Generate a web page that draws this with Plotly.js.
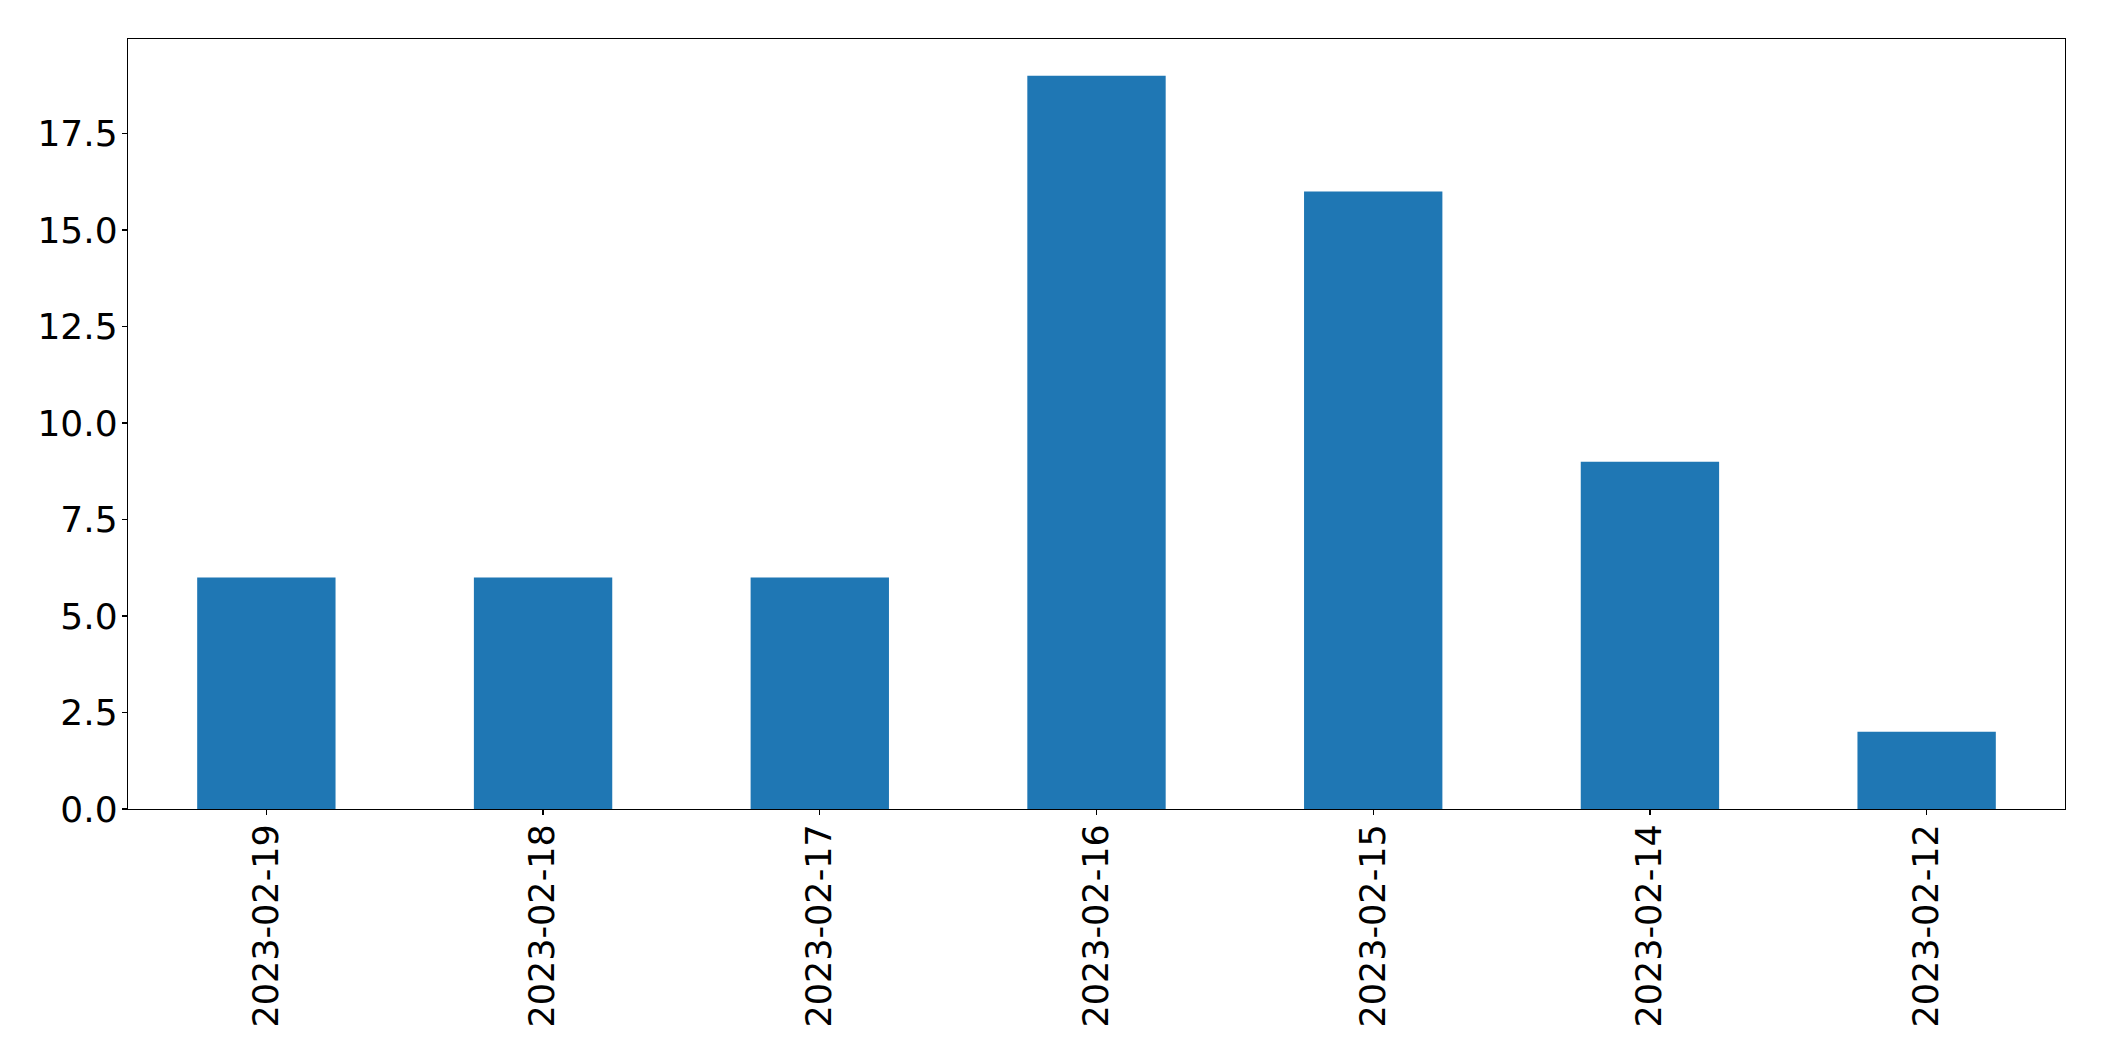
<!DOCTYPE html>
<html>
<head>
<meta charset="utf-8">
<script src="https://cdn.plot.ly/plotly-3.0.1.min.js"></script>
<style>html,body{margin:0;padding:0;background:#fff;}#chart{width:2104px;height:1061px;}</style>
</head>
<body>
<div id="chart"></div>
<script>
const categories = ["2023-02-19","2023-02-18","2023-02-17","2023-02-16","2023-02-15","2023-02-14","2023-02-12"];
const values = [6, 6, 6, 19, 16, 9, 2];
const yTickVals = [0, 2.5, 5, 7.5, 10, 12.5, 15, 17.5];
const yTickText = ["0.0","2.5","5.0","7.5","10.0","12.5","15.0","17.5"];

const trace = {
  type: "bar",
  x: categories,
  y: values,
  width: 0.5,
  marker: {color: "#1f77b4", line: {width: 0}},
  hoverinfo: "x+y"
};

const layout = {
  width: 2104,
  height: 1061,
  margin: {l: 127.5, r: 38.7, t: 39.3, b: 252, pad: 0},
  paper_bgcolor: "#fff",
  plot_bgcolor: "#fff",
  showlegend: false,
  font: {family: "DejaVu Sans", size: 35, color: "#000"},
  xaxis: {
    type: "category",
    range: [-0.5, 6.5],
    tickangle: -90,
    ticks: "outside",
    ticklen: 5,
    tickwidth: 1.2,
    tickcolor: "#000",
    showline: true,
    linecolor: "#000",
    linewidth: 1.2,
    mirror: true,
    showgrid: false,
    zeroline: false,
    ticklabelstandoff: -5,
    tickfont: {family: "DejaVu Sans", size: 35, color: "#000"}
  },
  yaxis: {
    range: [0, 19.95],
    tickvals: yTickVals,
    ticktext: yTickText,
    ticks: "outside",
    ticklen: 5,
    tickwidth: 1.2,
    tickcolor: "#000",
    showline: true,
    linecolor: "#000",
    linewidth: 1.2,
    mirror: true,
    showgrid: false,
    zeroline: false,
    ticklabelstandoff: -3,
    tickfont: {family: "DejaVu Sans", size: 36, color: "#000"}
  }
};

Plotly.newPlot("chart", [trace], layout, {displayModeBar: false, staticPlot: true});
</script>
</body>
</html>
